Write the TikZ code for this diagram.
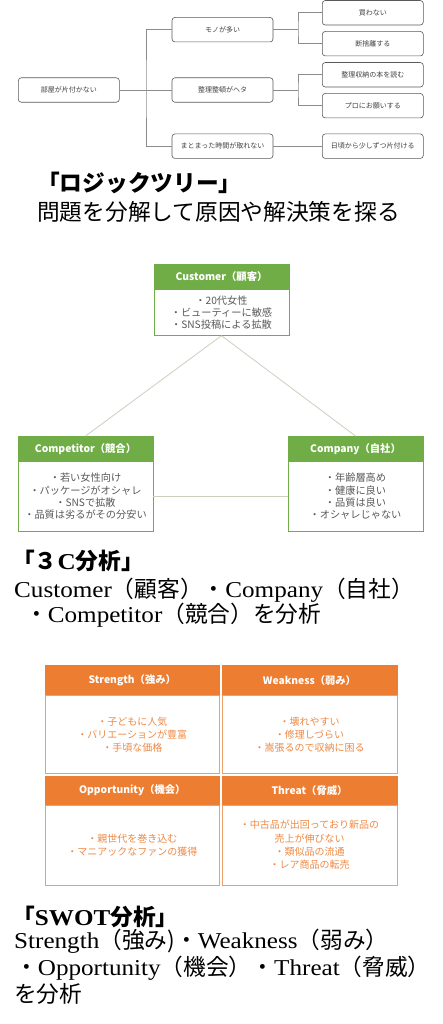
\documentclass[tikz,border=0pt]{standalone}
\usepackage{fontspec}
\setmainfont{Liberation Serif}[FakeStretch=1.107]
\newfontfamily\jp{Noto Sans CJK JP}
\newfontfamily\dg{Noto Sans CJK JP}
\definecolor{ltline}{HTML}{8C8C8C}
\definecolor{ltboxc}{HTML}{595959}
\definecolor{lttext}{HTML}{404040}
\definecolor{grn}{HTML}{70AD47}
\definecolor{grnline}{HTML}{C9D1BE}
\definecolor{grntext}{HTML}{595959}
\definecolor{org}{HTML}{ED7D31}
\definecolor{orgline}{HTML}{EDA06A}
\definecolor{orgtext}{HTML}{EE8A45}
\tikzset{
  ltbox/.style={draw=ltboxc, line width=0.6pt, rounded corners=3pt, minimum width=101pt, minimum height=24.5pt, inner sep=0pt, font=\dg\fontsize{7}{8}\selectfont, text=lttext},
  ltconn/.style={draw=ltline, line width=0.6pt},
  chdr/.style={fill=grn, draw=grn, line width=0.8pt, text=white, font=\dg\bfseries\fontsize{10.3}{12}\selectfont, minimum width=135pt, inner sep=0pt, outer sep=0pt, anchor=north west},
  cbody/.style={draw=grn, line width=0.8pt, fill=white, text=grntext, align=center, font=\dg\fontsize{10.2}{12.3}\selectfont, minimum width=135pt, inner sep=0pt, outer sep=0pt, anchor=north},
  cconn/.style={draw=grnline, line width=0.8pt},
  shdr/.style={fill=org, draw=org, line width=0.8pt, text=white, font=\dg\bfseries\fontsize{10.3}{12}\selectfont, minimum width=174.5pt, minimum height=30pt, inner sep=0pt, outer sep=0pt, anchor=north west},
  sbody/.style={draw=orgline, line width=0.9pt, fill=white, text=orgtext, align=center, font=\dg\fontsize{10}{13.3}\selectfont, minimum width=174.5pt, inner sep=0pt, outer sep=0pt, anchor=north},
  captxt/.style={anchor=base west, inner sep=0pt, font=\fontsize{22.7}{27}\selectfont, text=black},
}
\begin{document}
\begin{tikzpicture}[x=1pt,y=-1pt]
\fill[white] (0,0) rectangle (442,1024);
\useasboundingbox (0,0) rectangle (442,1024);

% ---------- Logic tree ----------
\node[ltbox] (root) at (68.8,90) {部屋が片付かない};
\node[ltbox] (m1) at (222.5,29.7) {モノが多い};
\node[ltbox] (m2) at (222.5,90) {整理整頓がヘタ};
\node[ltbox] (m3) at (222.5,146.2) {まとまった時間が取れない};
\node[ltbox] (r1) at (372.8,12.8) {買わない};
\node[ltbox] (r2) at (372.8,43.7) {断捨離する};
\node[ltbox] (r3) at (372.8,74.8) {整理収納の本を読む};
\node[ltbox] (r4) at (372.8,105.7) {プロにお願いする};
\node[ltbox] (r5) at (372.8,146.2) {日頃から少しずつ片付ける};
\coordinate (j1) at (146,90);
\coordinate (j2) at (298,29.7);
\coordinate (j3) at (298,90);
\draw[ltconn] (root) -- (m2);
\draw[ltconn] (m1.west) -| (j1) |- (m3.west);
\draw[ltconn] (m1) -- (j2);
\draw[ltconn] (r1.west) -| (j2) |- (r2.west);
\draw[ltconn] (m2) -- (j3);
\draw[ltconn] (r3.west) -| (j3) |- (r4.west);
\draw[ltconn] (m3) -- (r5);

\node[captxt] (c1a) at (37,192) {\jp\bfseries 「ロジックツリー」};
\node[captxt] (c1b) at (37,220.5) {\jp 問題を分解して原因や解決策を探る};

% ---------- 3C ----------
\node[chdr, minimum height=25.4pt] (cuh) at (154,264.3) {Customer（顧客）};
\node[cbody, minimum height=46pt] (cub) at (cuh.south) {・20代女性\\・ビューティーに敏感\\・SNS投稿による拡散};
\node[chdr, minimum height=25.7pt] (coh) at (18,436) {Competitor（競合）};
\node[cbody, minimum height=69.3pt] (cob) at (coh.south) {・若い女性向け\\・パッケージがオシャレ\\・SNSで拡散\\・品質は劣るがその分安い};
\node[chdr, minimum height=25.7pt] (cph) at (288,436) {Company（自社）};
\node[cbody, minimum height=69.3pt] (cpb) at (cph.south) {・年齢層高め\\・健康に良い\\・品質は良い\\・オシャレじゃない};
\draw[cconn] (cub.south) -- (coh.north);
\draw[cconn] (cub.south) -- (cph.north);
\draw[cconn] (cob.east) -- (cpb.west);

\node[captxt] (c2a) at (12,569) {\jp\bfseries 「３{\rmfamily\bfseries C}分析」};
\node[captxt] (c2b) at (14,597) {Customer{\jp （顧客）・}Company{\jp （自社）}};
\node[captxt] (c2c) at (25,622) {{\jp ・}Competitor{\jp （競合）を分析}};

% ---------- SWOT ----------
\node[shdr, minimum height=30.7pt] (sh) at (45,665) {Strength（強み）};
\node[sbody, minimum height=77.6pt] (sb) at (sh.south) {・子どもに人気\\・バリエーションが豊富\\・手頃な価格};
\node[shdr, minimum height=30.7pt, minimum width=175pt] (wh) at (222,665) {Weakness（弱み）};
\node[sbody, minimum height=77.6pt, minimum width=175pt] (wb) at (wh.south) {・壊れやすい\\・修理しづらい\\・嵩張るので収納に困る};
\node[shdr, minimum height=29pt] (oh) at (45,776) {Opportunity（機会）};
\node[sbody, minimum height=80pt] (ob) at (oh.south) {・親世代を巻き込む\\・マニアックなファンの獲得};
\node[shdr, minimum height=29pt, minimum width=175pt] (th) at (222,776) {Threat（脅威）};
\node[sbody, minimum height=80pt, minimum width=175pt] (tb) at (th.south) {・中古品が出回っており新品の\\売上が伸びない\\・類似品の流通\\・レア商品の転売};

\node[captxt] (c3a) at (12,925) {\jp\bfseries 「{\rmfamily\bfseries SWOT}分析」};
\node[captxt] (c3b) at (14,948) {Strength{\jp （強み)・}Weakness{\jp （弱み）}};
\node[captxt] (c3c) at (15,975) {{\jp ・}Opportunity{\jp （機会）・}Threat{\jp （脅威）}};
\node[captxt] (c3d) at (14,1002) {\jp を分析};
\end{tikzpicture}
\end{document}
